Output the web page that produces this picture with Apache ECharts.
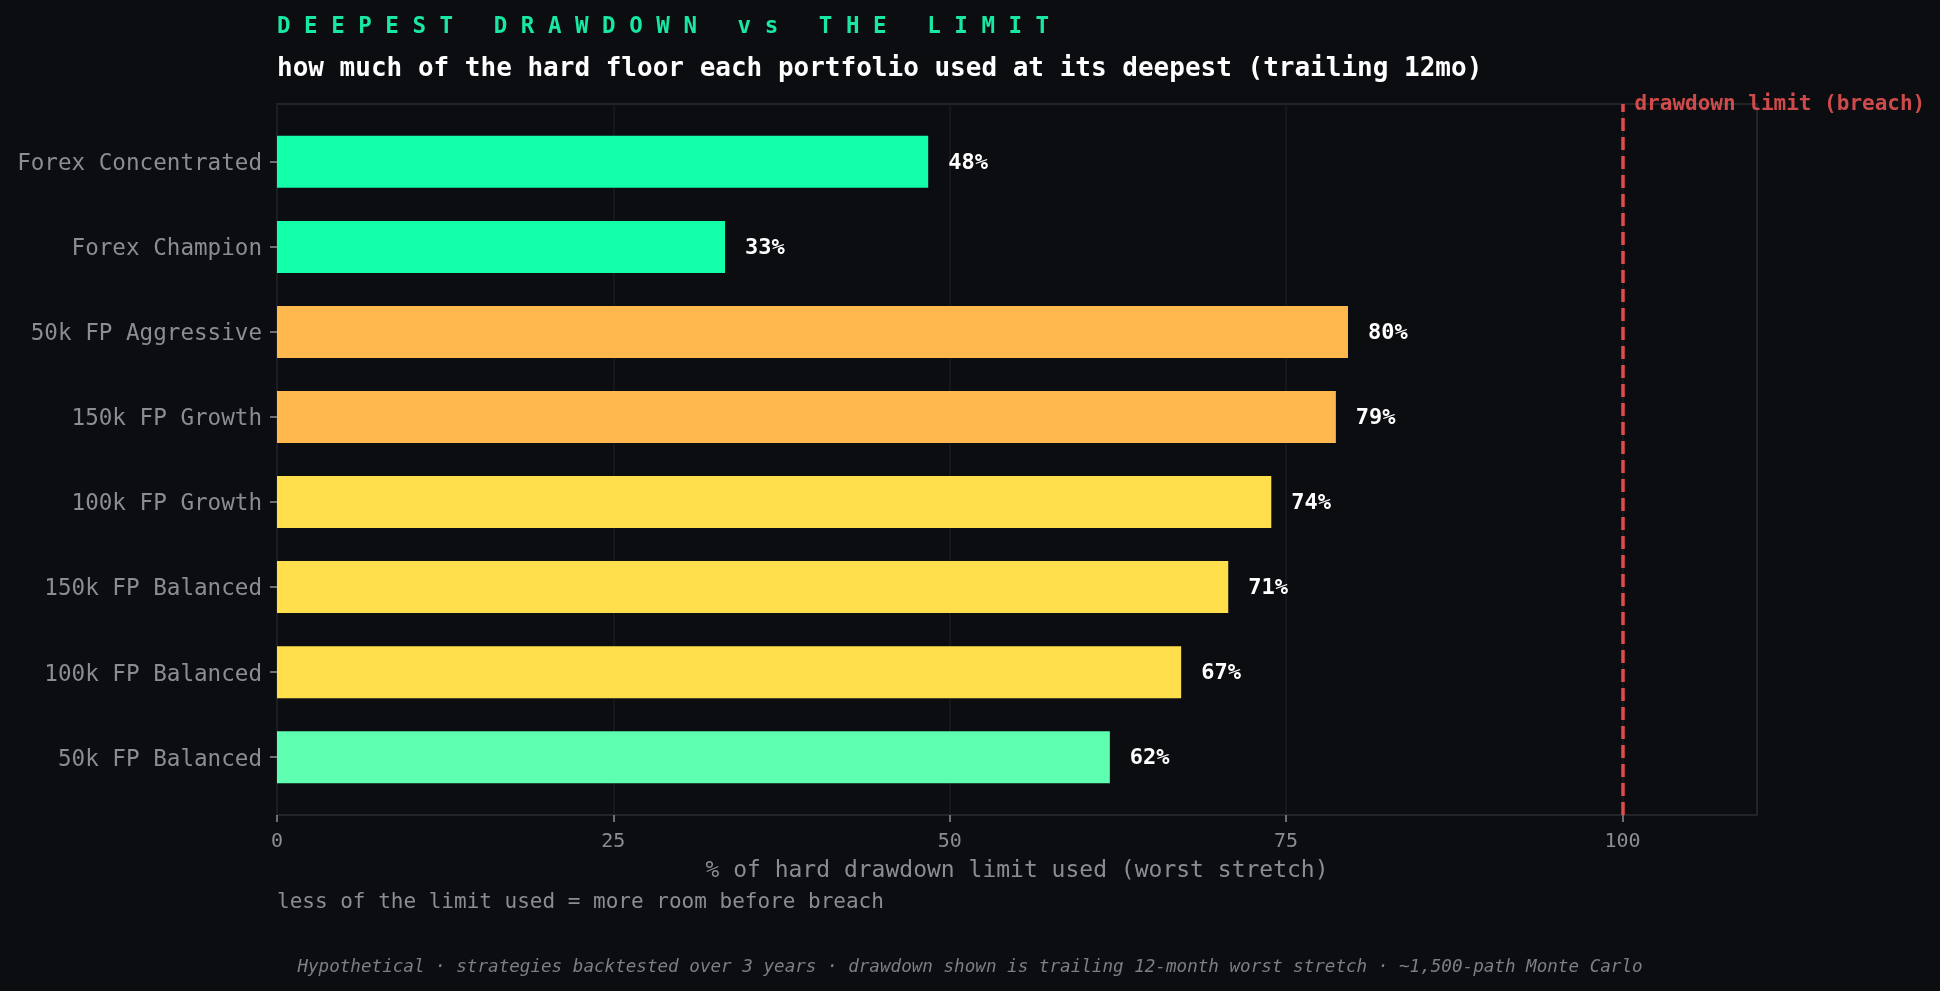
<!DOCTYPE html>
<html>
<head>
<meta charset="utf-8">
<script src="https://cdn.jsdelivr.net/npm/echarts@6/dist/echarts.min.js"></script>
<style>
html,body{margin:0;padding:0;background:#0c0d11;}
#chart{width:1940px;height:991px;}
</style>
</head>
<body>
<div id="chart"></div>
<script>
// ---- data ----
const categories = ['Forex Concentrated','Forex Champion','50k FP Aggressive','150k FP Growth','100k FP Growth','150k FP Balanced','100k FP Balanced','50k FP Balanced'];
const values = [48.4, 33.3, 79.6, 78.7, 73.9, 70.7, 67.2, 61.9];
const barColors = ['#13FFA9','#13FFA9','#FFB84E','#FFB84E','#FFE04C','#FFE04C','#FFE04C','#5EFFB0'];
const xTicks = [0, 25, 50, 75, 100];
const xMax = 110;
const limitValue = 100;
const titleText = 'D E E P E S T   D R A W D O W N   v s   T H E   L I M I T';
const subtitleText = 'how much of the hard floor each portfolio used at its deepest (trailing 12mo)';
const xAxisName = '% of hard drawdown limit used (worst stretch)';
const noteText = 'less of the limit used = more room before breach';
const footerText = 'Hypothetical \u00b7 strategies backtested over 3 years \u00b7 drawdown shown is trailing 12-month worst stretch \u00b7 ~1,500-path Monte Carlo';
const limitLabel = 'drawdown limit (breach)';

const FONT = 'DejaVu Sans Mono';
const chart = echarts.init(document.getElementById('chart'), null, {renderer:'canvas'});

const option = {
  backgroundColor: '#0c0d11',
  animation: false,
  textStyle: {fontFamily: FONT},
  title: [
    {text: titleText, left: 277, top: 16, padding: 0,
     textStyle: {fontFamily: FONT, fontSize: 22.5, fontWeight: 'bold', color: '#18E8A2'}},
    {text: subtitleText, left: 277, top: 56, padding: 0,
     textStyle: {fontFamily: FONT, fontSize: 26, fontWeight: 'bold', color: '#ffffff'}},
    {text: noteText, left: 277, top: 892, padding: 0,
     textStyle: {fontFamily: FONT, fontSize: 21, fontWeight: 'normal', color: '#8a8d92'}},
    {text: footerText, left: 'center', top: 958, padding: 0,
     textStyle: {fontFamily: FONT, fontSize: 17.6, fontStyle: 'italic', fontWeight: 'normal', color: '#7c7f84'}}
  ],
  grid: [
    {left: 277, right: 183, top: 104, bottom: 176, show: true, borderColor: '#2a2c31', borderWidth: 1.5, backgroundColor: 'transparent'},
    {left: 277, right: 183, top: 119.3, bottom: 191.3}
  ],
  xAxis: [
    {gridIndex: 0, type: 'value', min: 0, max: xMax, interval: 25,
     axisLine: {show: false},
     axisTick: {show: true, length: 7, lineStyle: {color: '#8a8d92', width: 1.5}, customValues: xTicks},
     axisLabel: {show: true, color: '#8a8d92', fontSize: 20, fontFamily: FONT, margin: 16.5, customValues: xTicks},
     splitLine: {show: true, lineStyle: {color: '#191b20', width: 1.5}},
     name: xAxisName, nameLocation: 'middle', nameGap: 45,
     nameTextStyle: {color: '#8a8d92', fontSize: 23, fontFamily: FONT}},
    {gridIndex: 1, type: 'value', min: 0, max: xMax, show: false}
  ],
  yAxis: [
    {gridIndex: 0, type: 'value', min: 0, max: 1, show: false},
    {gridIndex: 1, type: 'category', data: categories, inverse: true,
     axisLine: {show: false},
     axisTick: {show: true, length: 7, alignWithLabel: true, lineStyle: {color: '#8a8d92', width: 1.5}},
     axisLabel: {color: '#8a8d92', fontSize: 22.6, fontFamily: FONT, margin: 15,
                 formatter: v => '{a|' + v + '}',
                 rich: {a: {color: '#8a8d92', fontSize: 22.6, fontFamily: FONT, padding: [5, 0, 0, 0]}}},
     splitLine: {show: false}}
  ],
  series: [
    {type: 'bar', xAxisIndex: 1, yAxisIndex: 1, barWidth: 52,
     data: values.map((v, i) => ({value: v, itemStyle: {color: barColors[i]}})),
     label: {show: true, position: 'right', distance: 20, color: '#ffffff', fontSize: 22, fontWeight: 'bold', fontFamily: FONT,
             formatter: p => '{b|' + Math.round(p.value) + '%}',
             rich: {b: {color: '#ffffff', fontSize: 22, fontWeight: 'bold', fontFamily: FONT, padding: [3, 0, 0, 0]}}}},
    {type: 'scatter', xAxisIndex: 0, yAxisIndex: 0, symbolSize: 0,
     data: [[limitValue, 1]],
     label: {show: true, position: 'right', distance: 12, formatter: '{c|' + limitLabel + '}',
             rich: {c: {color: '#ff5a5a', fontSize: 21, fontWeight: 'bold', fontFamily: FONT, padding: [2, 0, 0, 0]}}},
     markLine: {silent: true, symbol: 'none', label: {show: false},
       lineStyle: {color: '#e34b4b', width: 3.5, type: [13, 6]},
       data: [{xAxis: limitValue}]}}
  ]
};
chart.setOption(option);
</script>
</body>
</html>
